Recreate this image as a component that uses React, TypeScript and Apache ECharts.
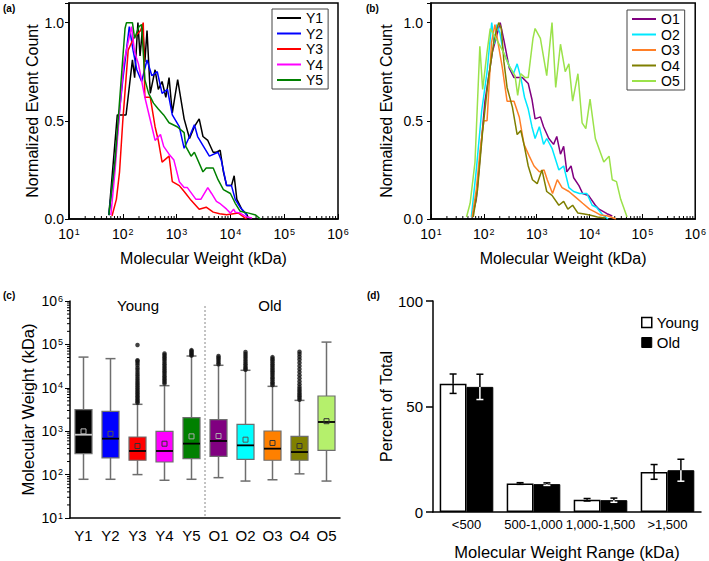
import { useEffect, useRef } from 'react';
import * as echarts from 'echarts';

const FONT = '"Liberation Sans", Arial, Helvetica, sans-serif';

// ---------- Panel (a): young samples, [kDa, normalized count] ----------
const youngNames = ['Y1', 'Y2', 'Y3', 'Y4', 'Y5'];
const y1Curve = [[55,0.02],[79,0.53],[115,0.53],[151,0.81],[166,0.72],[191,1.0],[209,0.83],[234,0.98],[257,0.8],[282,0.96],[324,0.64],[398,0.76],[457,0.66],[537,0.7],[631,0.62],[724,0.72],[832,0.54],[1047,0.71],[1380,0.51],[1740,0.41],[2140,0.47],[2630,0.51],[3090,0.42],[3800,0.4],[4780,0.34],[5500,0.34],[6460,0.35],[7410,0.24],[8510,0.17],[10470,0.17],[11750,0.22],[13180,0.1],[16220,0.05],[20420,0.02],[22000,0.0]];
const y2Curve = [[55,0.02],[72,0.3],[87,0.55],[100,0.71],[132,0.98],[155,0.86],[182,0.76],[224,0.7],[282,0.81],[347,0.73],[437,0.75],[537,0.64],[676,0.66],[832,0.53],[1122,0.47],[1380,0.36],[1740,0.42],[2140,0.48],[2460,0.42],[3160,0.37],[4070,0.32],[5890,0.34],[6760,0.3],[8510,0.17],[10470,0.17],[12300,0.1],[15140,0.06],[20420,0.02]];
const y3Curve = [[63,0.015],[76,0.1],[87,0.24],[100,0.5],[126,0.86],[158,0.92],[214,0.96],[240,1.0],[257,0.62],[324,0.62],[398,0.47],[457,0.4],[537,0.29],[724,0.32],[832,0.19],[1122,0.17],[1290,0.15],[1480,0.13],[1860,0.095],[2630,0.05],[3550,0.06],[4790,0.035],[6310,0.027],[8510,0.022],[14130,0.03],[17780,0.01],[20000,0.0]];
const y4Curve = [[60,0.02],[72,0.25],[87,0.55],[105,0.8],[145,0.98],[166,0.85],[195,0.79],[257,0.62],[347,0.47],[398,0.4],[501,0.43],[575,0.37],[724,0.33],[891,0.3],[1122,0.19],[1380,0.16],[1585,0.16],[2290,0.1],[2820,0.1],[3800,0.16],[4470,0.13],[5500,0.09],[6310,0.08],[8510,0.05],[10000,0.03],[11480,0.05],[12300,0.035],[15140,0.03],[20420,0.01],[25120,0.005]];
const y5Curve = [[55,0.02],[72,0.3],[87,0.6],[110,0.97],[117,1.0],[151,1.0],[166,0.92],[200,0.98],[224,0.99],[257,0.71],[302,0.64],[372,0.59],[457,0.56],[575,0.53],[724,0.49],[1023,0.47],[1380,0.44],[1480,0.37],[1860,0.32],[2140,0.34],[3090,0.24],[3550,0.26],[4790,0.26],[5890,0.2],[7410,0.15],[10000,0.13],[12300,0.08],[15140,0.04],[21880,0.03],[29510,0.02],[36310,0.0]];

// ---------- Panel (b): old samples ----------
const oldNames = ['O1', 'O2', 'O3', 'O4', 'O5'];
const o1Curve = [[60,0.01],[72,0.1],[87,0.35],[105,0.6],[145,0.85],[204,1.0],[240,0.91],[302,0.77],[372,0.72],[537,0.72],[692,0.69],[813,0.61],[933,0.51],[1175,0.52],[1349,0.47],[1698,0.41],[2089,0.38],[2400,0.42],[2820,0.33],[3240,0.37],[3720,0.24],[4470,0.27],[5010,0.21],[6310,0.17],[7410,0.13],[9550,0.12],[12880,0.07],[15140,0.05],[21380,0.027],[26920,0.015]];
const o2Curve = [[58,0.01],[72,0.25],[91,0.55],[115,0.75],[141,1.0],[158,0.89],[174,0.99],[200,0.95],[234,0.85],[302,0.78],[363,0.74],[427,0.79],[501,0.72],[589,0.62],[692,0.56],[813,0.47],[933,0.41],[1122,0.47],[1350,0.38],[1550,0.41],[1950,0.36],[2630,0.25],[3240,0.27],[4070,0.16],[5010,0.14],[6460,0.13],[8910,0.13],[11220,0.07],[13490,0.06],[17780,0.02],[22390,0.0]];
const o3Curve = [[60,0.01],[72,0.15],[85,0.35],[100,0.5],[115,0.5],[140,0.9],[162,0.99],[224,0.77],[275,0.6],[372,0.6],[468,0.52],[575,0.38],[724,0.32],[891,0.27],[1122,0.24],[1380,0.25],[1585,0.2],[1995,0.13],[2455,0.2],[3020,0.16],[4070,0.14],[5500,0.11],[7410,0.08],[10000,0.05],[12880,0.035],[16220,0.02],[22390,0.015],[31620,0.0]];
const o4Curve = [[63,0.01],[76,0.15],[95,0.45],[120,0.7],[158,0.92],[191,1.0],[214,0.97],[240,0.8],[275,0.67],[347,0.57],[427,0.43],[501,0.45],[575,0.38],[692,0.27],[832,0.2],[1023,0.18],[1259,0.25],[1549,0.14],[1950,0.12],[2630,0.07],[3240,0.09],[3890,0.05],[4790,0.07],[6030,0.03],[7940,0.025],[10000,0.02],[14130,0.01],[19950,0.005]];
const o5Curve = [[47,0.01],[55,0.08],[68,0.29],[84,0.88],[95,0.66],[115,0.85],[132,0.97],[170,0.92],[234,0.85],[300,0.78],[389,0.73],[437,0.63],[501,0.74],[603,0.72],[692,0.72],[851,0.92],[933,0.97],[1175,0.92],[1549,0.73],[1950,1.0],[2290,0.67],[2820,0.89],[3470,0.75],[4070,0.79],[4790,0.6],[6030,0.74],[7240,0.49],[8510,0.46],[10230,0.61],[12880,0.41],[15490,0.35],[18620,0.29],[23440,0.32],[26920,0.2],[32360,0.19],[38900,0.1],[51290,0.01]];

// log-axis minor tick multipliers and decades
const minorMultipliers = [2, 3, 4, 5, 6, 7, 8, 9];
const decadesAB = [10, 100, 1000, 10000, 100000];
const decadesC = [10, 100, 1000, 10000, 100000];

// ---------- Panel (c): box plots (kDa) ----------
const boxCategories = ['Y1', 'Y2', 'Y3', 'Y4', 'Y5', 'O1', 'O2', 'O3', 'O4', 'O5'];
const boxMin = [78, 78, 100, 74, 78, 85, 71, 76, 104, 71];
const boxQ1 = [303, 242, 214, 195, 233, 264, 225, 214, 214, 362];
const boxMedian = [830, 673, 350, 350, 517, 595, 472, 396, 331, 1630];
const boxQ3 = [3130, 2870, 735, 990, 2050, 1840, 1440, 1010, 762, 6470];
const boxMax = [51000, 47000, 4160, 11200, 54000, 33000, 25300, 10800, 5130, 113000];
const boxMean = [990, 870, 456, 515, 760, 775, 638, 535, 456, 1700];
const outY3 = [4500, 4800, 5200, 5600, 6100, 6600, 7200, 7800, 8500, 9300, 10200, 11200, 12300, 13500, 15000, 16500, 18500, 20500, 23000, 26000, 29000, 33000, 37000, 41000, 43000, 97000];
const outY4 = [12500, 13500, 14800, 16000, 17500, 19000, 21000, 23000, 25000, 27500, 30000, 33000, 36000, 40000, 44000, 48000, 52000, 57000, 62000];
const outY5 = [55000, 58000, 62000, 66000, 70000, 74000];
const outO1 = [35000, 38000, 42000, 46000, 50000, 54000];
const outO2 = [26000, 28000, 30000, 33000, 36000, 40000, 44000, 49000, 54000, 60000, 67000];
const outO3 = [11500, 12500, 13500, 15000, 16500, 18000, 20000, 22000, 24000, 26500, 29000, 32000, 35000, 39000, 43000, 47000, 51000];
const outO4 = [5300, 5800, 6400, 7000, 7700, 8500, 9400, 10500, 12000, 14000, 16500, 19500, 23000, 27000, 32000, 38000, 45000, 52000, 60000, 68000];

// ---------- Panel (d): percent of total ----------
const rangeCategories = ['<500', '500-1,000', '1,000-1,500', '>1,500'];
const youngPct = [60.8, 13.5, 5.8, 19.0];
const youngErr = [4.6, 0.4, 0.6, 3.5];
const oldPct = [59.3, 13.2, 5.6, 19.8];
const oldErr = [6.0, 0.6, 1.0, 5.2];

// ---------- styles ----------
const youngColors = ['#000000', '#0000ff', '#ff0000', '#ff00ff', '#008000'];
const oldColors = ['#800080', '#00e8ff', '#ff7f27', '#7f7f00', '#9be24a'];
const boxColors = ['#000000', '#0000ff', '#ff0000', '#ff00ff', '#008000', '#800080', '#00ffff', '#ff8000', '#808000', '#b5f06c'];
const medianColors = ['#c8c8c8', '#000', '#000', '#000', '#000', '#000', '#000', '#000', '#000', '#000'];
const meanColors = ['#bbbbbb', '#555', '#333', '#333', '#aaa', '#aaa', '#555', '#333', '#333', '#333'];

const pow10 = (v: number) => `{b|10}{s|${Math.round(Math.log10(v))}}`;
const powRich = {
  b: { fontSize: 14, color: '#000', fontFamily: FONT },
  s: { fontSize: 9, color: '#000', fontFamily: FONT, verticalAlign: 'top', padding: [0, 0, 0, 1] },
};

function buildOption() {
  const minorAB: number[] = [];
  decadesAB.forEach((d) => minorMultipliers.forEach((m) => minorAB.push(d * m)));
  const minorC: number[] = [];
  decadesC.forEach((d) => minorMultipliers.forEach((m) => minorC.push(d * m)));

  const logX = (gi: number) => ({
    type: 'log', logBase: 10, gridIndex: gi, min: 10, max: 1000000,
    name: 'Molecular Weight (kDa)', nameLocation: 'middle', nameGap: 31,
    nameTextStyle: { fontSize: 16, color: '#000', fontFamily: FONT },
    axisLine: { show: true, lineStyle: { color: '#000', width: 1.5 } },
    axisTick: { show: true, inside: true, length: 5, lineStyle: { color: '#000', width: 1 } },
    axisLabel: { formatter: pow10, rich: powRich, margin: 8 },
    splitLine: { show: false },
  });
  const normY = (gi: number, nameGap: number, margin: number) => ({
    type: 'value', gridIndex: gi, min: 0, max: 1.1, interval: 0.5,
    name: 'Normalized Event Count', nameLocation: 'middle', nameGap,
    nameTextStyle: { fontSize: 16, color: '#000', fontFamily: FONT },
    axisLine: { show: true, lineStyle: { color: '#000', width: 1.5 } },
    axisTick: { show: true, inside: false, length: 4, lineStyle: { color: '#000' } },
    axisLabel: { fontSize: 14, color: '#000', margin, formatter: (v: number) => (v > 1.05 ? '' : v.toFixed(1)) },
    splitLine: { show: false },
  });

  const lineSeries = (names: string[], curves: number[][][], colors: string[], idx: number) =>
    names.map((n, i) => ({
      type: 'line', name: n, xAxisIndex: idx, yAxisIndex: idx, data: curves[i],
      showSymbol: false, symbol: 'none', lineStyle: { width: 1.5, color: colors[i] },
      itemStyle: { color: colors[i] }, z: 3,
    }));

  const minorTickSeries = (idx: number) => ({
    type: 'custom', xAxisIndex: idx, yAxisIndex: idx, silent: true, clip: false,
    data: minorAB.map((v) => [v, 0]), encode: { x: 0, y: 1 },
    renderItem: (_p: any, api: any) => {
      const pt = api.coord([api.value(0), 0]);
      return { type: 'line', shape: { x1: pt[0], y1: pt[1], x2: pt[0], y2: pt[1] - 3 }, style: { stroke: '#000', lineWidth: 1 } };
    },
  });

  const outlierGroups: [number, number[]][] = [[2, outY3], [3, outY4], [4, outY5], [5, outO1], [6, outO2], [7, outO3], [8, outO4]];
  const outlierData: number[][] = [];
  outlierGroups.forEach(([ci, arr]) => arr.forEach((v) => outlierData.push([ci, v])));

  const errRender = (off: number, innerColor: string) => (_p: any, api: any) => {
    const i = api.value(0), v = api.value(1), e = api.value(2);
    const band = api.size([1, 0])[0];
    const c = api.coord([i, v]);
    const x = c[0] + off * band;
    const yTop = api.coord([i, v + e])[1];
    const yBot = api.coord([i, v - e])[1];
    const cap = 3.5;
    return {
      type: 'group',
      children: [
        { type: 'line', shape: { x1: x, y1: yTop, x2: x, y2: c[1] }, style: { stroke: '#000', lineWidth: 1.5 } },
        { type: 'line', shape: { x1: x, y1: c[1], x2: x, y2: yBot }, style: { stroke: innerColor, lineWidth: 1.5 } },
        { type: 'line', shape: { x1: x - cap, y1: yTop, x2: x + cap, y2: yTop }, style: { stroke: '#000', lineWidth: 1.5 } },
        { type: 'line', shape: { x1: x - cap, y1: yBot, x2: x + cap, y2: yBot }, style: { stroke: innerColor, lineWidth: 1.5 } },
      ],
    };
  };

  const txt = (x: number, y: number, text: string, size: number, weight = 'normal', align = 'left') => ({
    type: 'text', x, y,
    style: { text, fontSize: size, fontWeight: weight, fontFamily: FONT, fill: '#000', textAlign: align, align, textVerticalAlign: 'middle', verticalAlign: 'middle' },
  });

  const lineLegend = (names: string[], left: number, top: number) => ({
    data: names.map((n) => ({ name: n, icon: 'rect' })),
    left, top, orient: 'vertical', itemWidth: 24, itemHeight: 2, itemGap: 1.5,
    padding: [2, 5, 2, 5], borderColor: '#444', borderWidth: 1, selectedMode: false,
    textStyle: { fontSize: 14, color: '#000', fontFamily: FONT },
  });

  return {
    animation: false,
    backgroundColor: '#fff',
    textStyle: { fontFamily: FONT },
    grid: [
      { left: 69, top: 3, width: 269, height: 216, show: true, borderColor: '#000', borderWidth: 1.5, backgroundColor: 'transparent' },
      { left: 431, top: 3, width: 266, height: 216, show: true, borderColor: '#000', borderWidth: 1.5, backgroundColor: 'transparent' },
      { left: 70, top: 301, width: 270, height: 217 },
      { left: 433, top: 301, width: 268, height: 215 },
    ],
    xAxis: [
      logX(0),
      logX(1),
      {
        type: 'category', gridIndex: 2, data: boxCategories,
        axisLine: { show: true, lineStyle: { color: '#000', width: 1.5 } },
        axisTick: { show: false },
        axisLabel: { fontSize: 15, color: '#000', margin: 10, interval: 0 },
      },
      {
        type: 'category', gridIndex: 3, data: rangeCategories,
        name: 'Molecular Weight Range (kDa)', nameLocation: 'middle', nameGap: 31,
        nameTextStyle: { fontSize: 16.5, color: '#000', fontFamily: FONT },
        axisLine: { show: true, lineStyle: { color: '#000', width: 1.5 } },
        axisTick: { show: false },
        axisLabel: { fontSize: 13, color: '#000', margin: 6, interval: 0 },
      },
    ],
    yAxis: [
      normY(0, 29, 5),
      normY(1, 37, 8),
      {
        type: 'log', logBase: 10, gridIndex: 2, min: 10, max: 1000000,
        name: 'Molecular Weight (kDa)', nameLocation: 'middle', nameGap: 34,
        nameTextStyle: { fontSize: 16.5, color: '#000', fontFamily: FONT },
        axisLine: { show: true, lineStyle: { color: '#000', width: 1.5 } },
        axisTick: { show: true, inside: false, length: 5, lineStyle: { color: '#000' } },
        axisLabel: { formatter: pow10, rich: powRich, margin: 7 },
        splitLine: { show: false },
      },
      {
        type: 'value', gridIndex: 3, min: 0, max: 100, interval: 50,
        name: 'Percent of Total', nameLocation: 'middle', nameGap: 38,
        nameTextStyle: { fontSize: 16, color: '#000', fontFamily: FONT },
        axisLine: { show: true, lineStyle: { color: '#000', width: 1.5 } },
        axisTick: { show: true, inside: false, length: 7, lineStyle: { color: '#000', width: 1.5 } },
        axisLabel: { fontSize: 15, color: '#000', margin: 10 },
        splitLine: { show: false },
      },
    ],
    legend: [
      lineLegend(youngNames, 272, 9),
      lineLegend(oldNames, 627, 10),
      {
        data: [
          { name: 'Young', icon: 'rect', itemStyle: { color: '#fff', borderColor: '#000', borderWidth: 1.5 } },
          { name: 'Old', icon: 'rect', itemStyle: { color: '#000', borderColor: '#000', borderWidth: 1 } },
        ],
        left: 636, top: 310, orient: 'vertical', itemWidth: 10, itemHeight: 10, itemGap: 5, selectedMode: false,
        textStyle: { fontSize: 15, color: '#000', fontFamily: FONT },
      },
    ],
    series: [
      ...lineSeries(youngNames, [y1Curve, y2Curve, y3Curve, y4Curve, y5Curve], youngColors, 0),
      ...lineSeries(oldNames, [o1Curve, o2Curve, o3Curve, o4Curve, o5Curve], oldColors, 1),
      minorTickSeries(0),
      minorTickSeries(1),
      {
        type: 'custom', xAxisIndex: 2, yAxisIndex: 2, silent: true, clip: false,
        data: minorC.map((v) => [0, v]), encode: { x: 0, y: 1 },
        renderItem: (_p: any, api: any) => {
          const pt = api.coord([0, api.value(1)]);
          const left = pt[0] - api.size([1, 0])[0] / 2;
          return { type: 'line', shape: { x1: left - 3, y1: pt[1], x2: left, y2: pt[1] }, style: { stroke: '#000', lineWidth: 1 } };
        },
      },
      {
        type: 'custom', xAxisIndex: 2, yAxisIndex: 2, silent: true,
        data: boxCategories.map((_c, i) => [i, boxMin[i], boxQ1[i], boxMedian[i], boxQ3[i], boxMax[i], boxMean[i]]),
        encode: { x: 0, y: [1, 2, 3, 4, 5] },
        renderItem: (_p: any, api: any) => {
          const i = api.value(0);
          const pMin = api.coord([i, api.value(1)]);
          const cx = pMin[0];
          const yMin = pMin[1];
          const yQ1 = api.coord([i, api.value(2)])[1];
          const yMed = api.coord([i, api.value(3)])[1];
          const yQ3 = api.coord([i, api.value(4)])[1];
          const yMax = api.coord([i, api.value(5)])[1];
          const yMean = api.coord([i, api.value(6)])[1];
          const band = api.size([1, 0])[0];
          const w = band * 0.63;
          const cap = 5;
          const grey = '#6e6e6e';
          return {
            type: 'group',
            children: [
              { type: 'line', shape: { x1: cx, y1: yMax, x2: cx, y2: yQ3 }, style: { stroke: grey, lineWidth: 1.5 } },
              { type: 'line', shape: { x1: cx, y1: yQ1, x2: cx, y2: yMin }, style: { stroke: grey, lineWidth: 1.5 } },
              { type: 'line', shape: { x1: cx - cap, y1: yMax, x2: cx + cap, y2: yMax }, style: { stroke: grey, lineWidth: 1.5 } },
              { type: 'line', shape: { x1: cx - cap, y1: yMin, x2: cx + cap, y2: yMin }, style: { stroke: grey, lineWidth: 1.5 } },
              { type: 'rect', shape: { x: cx - w / 2, y: yQ3, width: w, height: yQ1 - yQ3 }, style: { fill: boxColors[i], stroke: grey, lineWidth: 1.2 } },
              { type: 'line', shape: { x1: cx - w / 2, y1: yMed, x2: cx + w / 2, y2: yMed }, style: { stroke: medianColors[i], lineWidth: 1.8 } },
              { type: 'rect', shape: { x: cx - 2.5, y: yMean - 2.5, width: 5, height: 5 }, style: { fill: 'none', stroke: meanColors[i], lineWidth: 1 } },
            ],
          };
        },
      },
      {
        type: 'scatter', xAxisIndex: 2, yAxisIndex: 2, data: outlierData, symbol: 'circle', symbolSize: 4.5,
        itemStyle: { color: '#111' }, silent: true, z: 4,
      },
      {
        type: 'bar', name: 'Young', xAxisIndex: 3, yAxisIndex: 3, data: youngPct, barWidth: '40%', barGap: '0%',
        itemStyle: { color: '#fff', borderColor: '#000', borderWidth: 1.5 },
      },
      {
        type: 'bar', name: 'Old', xAxisIndex: 3, yAxisIndex: 3, data: oldPct, barWidth: '40%', barGap: '0%',
        itemStyle: { color: '#000', borderColor: '#000', borderWidth: 1 },
      },
      {
        type: 'custom', xAxisIndex: 3, yAxisIndex: 3, silent: true, z: 10, encode: { x: 0, y: 1 },
        data: rangeCategories.map((_c, i) => [i, youngPct[i], youngErr[i]]),
        renderItem: errRender(-0.2, '#000'),
      },
      {
        type: 'custom', xAxisIndex: 3, yAxisIndex: 3, silent: true, z: 10, encode: { x: 0, y: 1 },
        data: rangeCategories.map((_c, i) => [i, oldPct[i], oldErr[i]]),
        renderItem: errRender(0.2, '#fff'),
      },
    ],
    graphic: [
      txt(3, 8, '(a)', 10, 'bold'),
      txt(366, 8, '(b)', 10, 'bold'),
      txt(3, 295, '(c)', 10, 'bold'),
      txt(367, 295, '(d)', 10, 'bold'),
      txt(138, 305, 'Young', 15, 'normal', 'center'),
      txt(270, 305, 'Old', 15, 'normal', 'center'),
      { type: 'line', shape: { x1: 205, y1: 306, x2: 205, y2: 518 }, style: { stroke: '#888', lineWidth: 1, lineDash: [2, 2] } },
    ],
  };
}

export default function App() {
  const ref = useRef<HTMLDivElement>(null);
  useEffect(() => {
    if (!ref.current) return;
    const chart = echarts.init(ref.current, null, { renderer: 'svg' });
    chart.setOption(buildOption() as any);
    return () => chart.dispose();
  }, []);
  return <div ref={ref} style={{ position: 'fixed', left: 0, top: 0, width: 709, height: 561, background: '#fff' }} />;
}
